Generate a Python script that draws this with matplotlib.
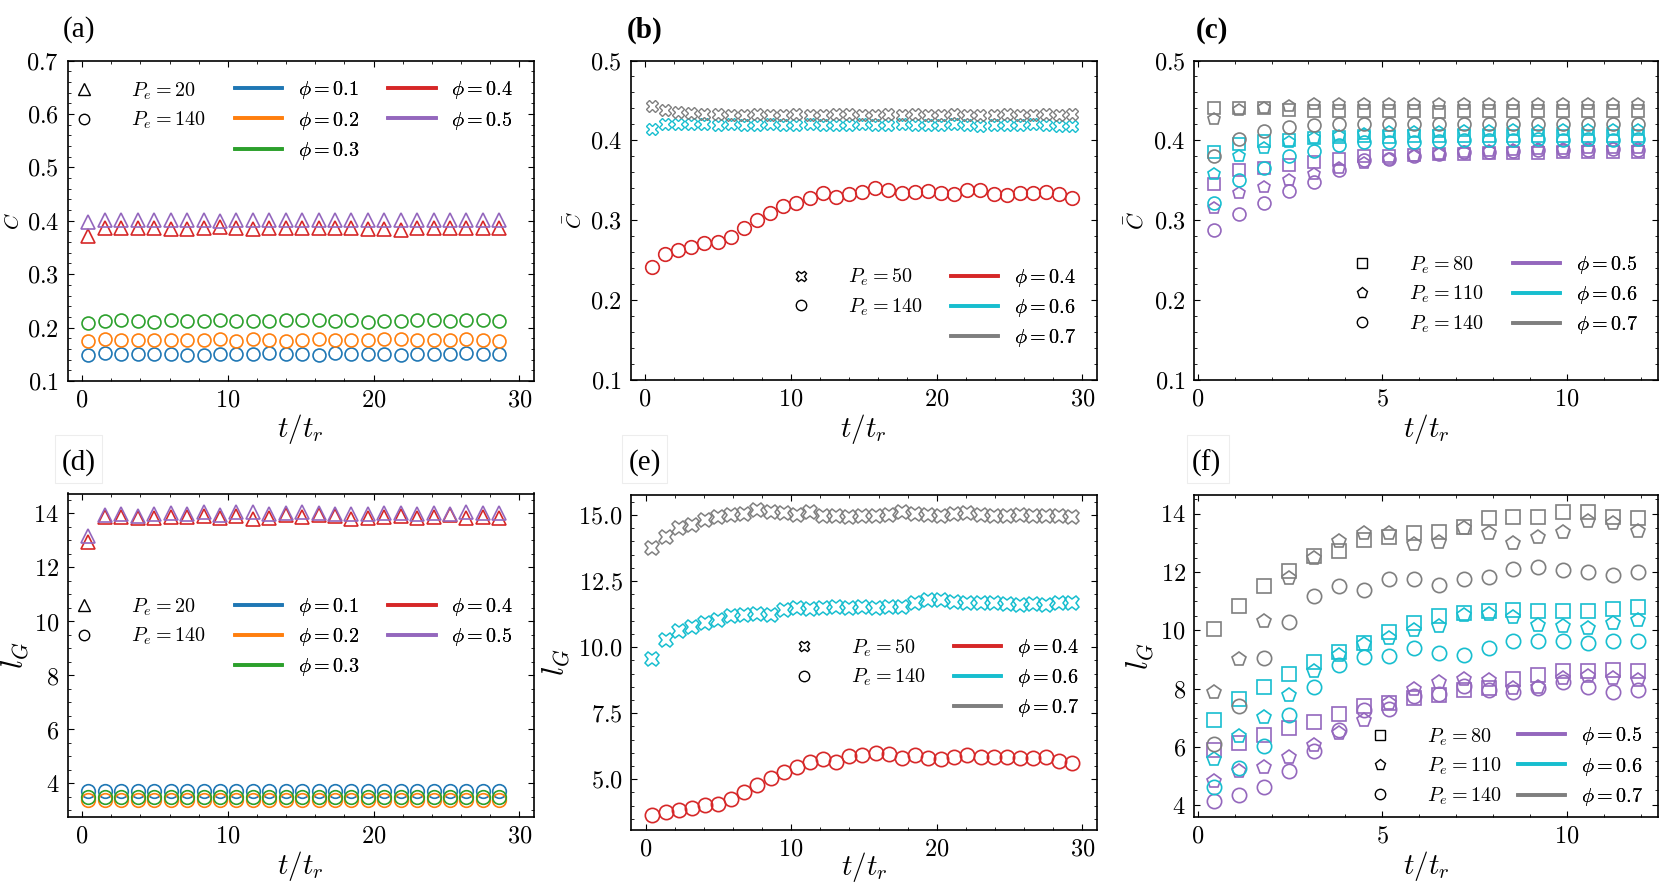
import numpy as np
import matplotlib
matplotlib.use("Agg")
import matplotlib.pyplot as plt
from matplotlib.lines import Line2D
from matplotlib.patches import Rectangle

# ---------------- data ----------------
# panels (a),(d): Pe=20 (triangles) / Pe=140 (circles)
t_ad = np.linspace(0.44, 28.62, 26)
C_a_phi05 = [0.397, 0.401, 0.402, 0.401, 0.402, 0.401, 0.402, 0.401, 0.400, 0.402, 0.401, 0.401, 0.401,
             0.402, 0.401, 0.401, 0.401, 0.401, 0.401, 0.402, 0.402, 0.401, 0.402, 0.401, 0.402, 0.401]
C_a_phi04 = [0.372, 0.387, 0.387, 0.386, 0.386, 0.385, 0.385, 0.386, 0.388, 0.387, 0.385, 0.386, 0.387,
             0.386, 0.386, 0.387, 0.386, 0.385, 0.384, 0.383, 0.386, 0.386, 0.386, 0.387, 0.386, 0.386]
C_a_phi03 = [0.208, 0.213, 0.215, 0.213, 0.211, 0.214, 0.212, 0.213, 0.215, 0.213, 0.213, 0.213, 0.214,
             0.214, 0.215, 0.213, 0.215, 0.211, 0.212, 0.213, 0.214, 0.215, 0.213, 0.214, 0.214, 0.213]
C_a_phi02 = [0.175, 0.178, 0.177, 0.176, 0.177, 0.177, 0.177, 0.176, 0.179, 0.175, 0.179, 0.177, 0.174,
             0.177, 0.178, 0.176, 0.177, 0.177, 0.178, 0.178, 0.176, 0.176, 0.176, 0.178, 0.177, 0.175]
C_a_phi01 = [0.149, 0.152, 0.150, 0.150, 0.150, 0.151, 0.149, 0.149, 0.150, 0.151, 0.151, 0.152, 0.150,
             0.150, 0.148, 0.152, 0.151, 0.151, 0.151, 0.149, 0.150, 0.151, 0.151, 0.152, 0.150, 0.150]

l_d_phi05 = [13.15, 13.95, 13.97, 13.92, 13.98, 14.00, 13.98, 14.05, 13.96, 14.04, 14.05, 13.97, 14.02,
             14.06, 14.03, 13.99, 13.98, 13.97, 14.00, 14.01, 13.98, 14.00, 13.99, 14.05, 14.02, 14.00]
l_d_phi04 = [12.95, 13.86, 13.87, 13.83, 13.82, 13.86, 13.87, 13.90, 13.85, 13.92, 13.80, 13.84, 13.94,
             13.86, 13.93, 13.89, 13.81, 13.85, 13.86, 13.90, 13.82, 13.88, 13.93, 13.85, 13.86, 13.85]
l_d_phi01 = [3.72, 3.71, 3.72, 3.71, 3.73, 3.72, 3.71, 3.72, 3.72, 3.71, 3.72, 3.73, 3.72,
             3.71, 3.72, 3.72, 3.71, 3.72, 3.72, 3.71, 3.72, 3.73, 3.72, 3.71, 3.72, 3.72]
l_d_phi03 = [3.50, 3.51, 3.50, 3.49, 3.50, 3.51, 3.50, 3.50, 3.49, 3.50, 3.51, 3.50, 3.50,
             3.50, 3.49, 3.50, 3.51, 3.50, 3.50, 3.49, 3.50, 3.50, 3.51, 3.50, 3.50, 3.50]
l_d_phi02 = [3.38, 3.37, 3.38, 3.38, 3.37, 3.38, 3.38, 3.37, 3.38, 3.38, 3.37, 3.38, 3.38,
             3.37, 3.38, 3.38, 3.37, 3.38, 3.38, 3.37, 3.38, 3.38, 3.37, 3.38, 3.38, 3.37]

# panels (b),(e): Pe=50 (crosses) / Pe=140 (circles)
t_be = np.linspace(0.47, 29.31, 33)
C_b_phi07 = [0.443, 0.438, 0.436, 0.434, 0.433, 0.433, 0.432, 0.432, 0.433, 0.432, 0.432, 0.433, 0.432,
             0.432, 0.433, 0.433, 0.432, 0.432, 0.433, 0.432, 0.433, 0.432, 0.432, 0.433, 0.432, 0.432,
             0.432, 0.433, 0.432, 0.432, 0.433, 0.432, 0.433]
C_b_phi06 = [0.414, 0.420, 0.421, 0.421, 0.420, 0.419, 0.420, 0.419, 0.419, 0.420, 0.419, 0.419, 0.420,
             0.419, 0.419, 0.419, 0.420, 0.419, 0.419, 0.420, 0.419, 0.419, 0.419, 0.420, 0.419, 0.418,
             0.419, 0.419, 0.419, 0.420, 0.419, 0.418, 0.418]
C_b_phi04 = [0.242, 0.258, 0.263, 0.267, 0.272, 0.273, 0.279, 0.290, 0.300, 0.309, 0.318, 0.322, 0.328,
             0.334, 0.329, 0.333, 0.335, 0.340, 0.338, 0.334, 0.335, 0.336, 0.334, 0.333, 0.338, 0.338,
             0.333, 0.332, 0.334, 0.334, 0.335, 0.333, 0.328]

l_e_phi07 = [13.74, 14.18, 14.50, 14.62, 14.81, 14.91, 15.00, 15.04, 15.19, 15.13, 15.06, 15.00, 15.13,
             14.96, 14.98, 14.94, 14.96, 14.98, 15.00, 15.10, 15.05, 15.00, 14.98, 15.05, 15.08, 15.02,
             14.97, 14.98, 15.00, 14.96, 14.98, 14.95, 14.94]
l_e_phi06 = [9.54, 10.27, 10.62, 10.78, 10.93, 11.03, 11.18, 11.22, 11.26, 11.22, 11.39, 11.48, 11.44,
             11.48, 11.51, 11.48, 11.51, 11.48, 11.53, 11.53, 11.68, 11.80, 11.78, 11.72, 11.68, 11.66,
             11.66, 11.63, 11.60, 11.63, 11.60, 11.66, 11.68]
l_e_phi04 = [3.63, 3.78, 3.84, 3.93, 4.03, 4.07, 4.27, 4.53, 4.79, 5.04, 5.26, 5.48, 5.67,
             5.76, 5.67, 5.88, 5.92, 5.98, 5.95, 5.79, 5.92, 5.79, 5.76, 5.86, 5.92, 5.86,
             5.83, 5.86, 5.79, 5.79, 5.83, 5.71, 5.63]

# panels (c),(f): Pe=80 (squares), 110 (pentagons), 140 (circles)
t_cf = np.linspace(0.455, 11.93, 18)
C_c = {
    (0.7, 80): [0.441, 0.441, 0.440, 0.438, 0.437, 0.437, 0.437, 0.437, 0.437, 0.436, 0.437, 0.437, 0.437, 0.437, 0.437, 0.437, 0.437, 0.437],
    (0.7, 110): [0.427, 0.438, 0.440, 0.443, 0.445, 0.445, 0.446, 0.446, 0.446, 0.445, 0.446, 0.446, 0.445, 0.446, 0.446, 0.446, 0.446, 0.446],
    (0.7, 140): [0.380, 0.402, 0.412, 0.417, 0.419, 0.421, 0.421, 0.420, 0.421, 0.420, 0.420, 0.421, 0.420, 0.421, 0.420, 0.421, 0.421, 0.420],
    (0.6, 80): [0.385, 0.396, 0.399, 0.401, 0.403, 0.404, 0.406, 0.404, 0.405, 0.405, 0.405, 0.406, 0.406, 0.406, 0.405, 0.406, 0.406, 0.406],
    (0.6, 110): [0.358, 0.380, 0.390, 0.398, 0.403, 0.405, 0.408, 0.410, 0.411, 0.411, 0.412, 0.412, 0.413, 0.412, 0.413, 0.413, 0.413, 0.413],
    (0.6, 140): [0.322, 0.351, 0.366, 0.380, 0.387, 0.394, 0.398, 0.398, 0.398, 0.399, 0.400, 0.401, 0.401, 0.402, 0.401, 0.402, 0.401, 0.402],
    (0.5, 80): [0.345, 0.363, 0.366, 0.369, 0.373, 0.377, 0.380, 0.381, 0.382, 0.383, 0.383, 0.384, 0.384, 0.384, 0.385, 0.385, 0.385, 0.385],
    (0.5, 110): [0.315, 0.334, 0.342, 0.351, 0.358, 0.366, 0.372, 0.377, 0.381, 0.383, 0.386, 0.387, 0.388, 0.389, 0.389, 0.390, 0.391, 0.390],
    (0.5, 140): [0.288, 0.308, 0.321, 0.337, 0.348, 0.363, 0.375, 0.377, 0.381, 0.383, 0.385, 0.386, 0.387, 0.388, 0.388, 0.388, 0.389, 0.388],
}
l_f = {
    (0.7, 80): [10.04, 10.85, 11.53, 12.05, 12.54, 12.73, 13.11, 13.22, 13.36, 13.39, 13.54, 13.85, 13.89, 13.91, 14.05, 14.08, 13.89, 13.85],
    (0.7, 110): [7.87, 9.01, 10.33, 11.79, 12.48, 13.08, 13.34, 13.36, 12.97, 13.02, 13.51, 13.36, 12.99, 13.22, 13.39, 13.74, 13.68, 13.43],
    (0.7, 140): [6.11, 7.39, 9.05, 10.30, 11.19, 11.54, 11.39, 11.76, 11.76, 11.56, 11.76, 11.85, 12.10, 12.16, 12.08, 11.99, 11.91, 11.99],
    (0.6, 80): [6.93, 7.64, 8.07, 8.51, 8.93, 9.27, 9.56, 9.93, 10.25, 10.48, 10.59, 10.68, 10.70, 10.68, 10.68, 10.65, 10.73, 10.82],
    (0.6, 110): [5.58, 6.36, 7.04, 7.79, 8.59, 9.16, 9.54, 9.73, 10.00, 10.16, 10.53, 10.57, 10.45, 10.19, 10.16, 10.08, 10.27, 10.34],
    (0.6, 140): [4.61, 5.27, 6.04, 7.10, 8.05, 8.82, 9.10, 9.13, 9.39, 9.24, 9.16, 9.39, 9.64, 9.62, 9.62, 9.58, 9.62, 9.64],
    (0.5, 80): [5.88, 6.13, 6.41, 6.64, 6.84, 7.13, 7.39, 7.50, 7.67, 7.79, 7.94, 8.02, 8.32, 8.47, 8.59, 8.62, 8.65, 8.59],
    (0.5, 110): [4.81, 5.16, 5.30, 5.65, 6.07, 6.49, 6.91, 7.50, 7.98, 8.21, 8.32, 8.30, 8.02, 8.07, 8.36, 8.42, 8.36, 8.30],
    (0.5, 140): [4.13, 4.35, 4.62, 5.16, 5.84, 6.59, 7.27, 7.30, 7.73, 7.82, 8.10, 7.94, 7.87, 8.02, 8.24, 8.07, 7.87, 7.96],
}

colors = {0.1: "#1f77b4", 0.2: "#ff7f0e", 0.3: "#2ca02c", 0.4: "#d62728",
          0.5: "#9467bd", 0.6: "#17becf", 0.7: "#7f7f7f"}
marker_cf = {80: "s", 110: "p", 140: "o"}

# ---------------- style ----------------
plt.rcParams.update({
    "font.family": "serif",
    "font.serif": ["cmr10"],
    "mathtext.fontset": "cm",
    "axes.formatter.use_mathtext": True,
    "axes.linewidth": 1.2,
    "xtick.direction": "in", "ytick.direction": "in",
    "xtick.top": True, "ytick.right": True,
    "xtick.minor.visible": True, "ytick.minor.visible": True,
    "xtick.major.size": 4.3, "ytick.major.size": 4.3,
    "xtick.minor.size": 2.4, "ytick.minor.size": 2.4,
    "xtick.major.width": 0.8, "ytick.major.width": 0.8,
    "xtick.minor.width": 0.6, "ytick.minor.width": 0.6,
    "xtick.major.pad": 6, "ytick.major.pad": 6,
    "xtick.labelsize": 17.5, "ytick.labelsize": 17.5,
})

W, H = 1661, 883
fig = plt.figure(figsize=(W / 100, H / 100), dpi=100)
LFS = 14.5
FS_PX = LFS * 100 / 72
LSP = 0.4


def make_ax(l, r, t, b):
    return fig.add_axes([l / W, 1 - b / H, (r - l) / W, (b - t) / H])


def labels(ax, ylab, ysize, yx, xy):
    l, b, w, h = ax.get_position().bounds
    ax.set_xlabel(r"$t/t_r$", fontsize=21, va="center")
    ax.xaxis.set_label_coords(0.5, ((1 - xy / H) - b) / h)
    ax.set_ylabel(ylab, fontsize=ysize, va="center")
    ax.yaxis.set_label_coords((yx / W - l) / w, 0.5)


def marker_legend(ax, items, mx, yc):
    hs = [Line2D([], [], ls="none", marker=m, mfc="none", mec="k", ms=ms, mew=1.0) for m, ms, _ in items]
    x0 = mx - 0.5 * FS_PX
    leg = ax.legend(hs, [lab for _, _, lab in items], loc="center left",
                    bbox_to_anchor=(x0 / W, 1 - yc / H), bbox_transform=fig.transFigure,
                    frameon=False, borderpad=0, borderaxespad=0, fontsize=LFS,
                    handlelength=1.0, handletextpad=1.85, labelspacing=LSP)
    ax.add_artist(leg)


def color_legend(ax, phis, x0, yc, ncol=1):
    hs = [Line2D([], [], color=colors[p], lw=2.6) for p in phis]
    leg = ax.legend(hs, [r"$\phi = %.1f$" % p for p in phis], loc="center left",
                    bbox_to_anchor=(x0 / W, 1 - yc / H), bbox_transform=fig.transFigure,
                    frameon=False, borderpad=0, borderaxespad=0, fontsize=LFS, ncol=ncol,
                    handlelength=2.35, handletextpad=0.78, labelspacing=LSP, columnspacing=1.45)
    ax.add_artist(leg)


# ---------------- (a) ----------------
ax = make_ax(67.5, 534, 60.5, 381)
ax.plot(t_ad, C_a_phi04, ls="none", marker="^", mfc="none", mec=colors[0.4], ms=10, mew=1.2)
ax.plot(t_ad, C_a_phi05, ls="none", marker="^", mfc="none", mec=colors[0.5], ms=10, mew=1.2)
ax.plot(t_ad, C_a_phi01, ls="none", marker="o", mfc="none", mec=colors[0.1], ms=9.3, mew=1.2)
ax.plot(t_ad, C_a_phi02, ls="none", marker="o", mfc="none", mec=colors[0.2], ms=9.3, mew=1.2)
ax.plot(t_ad, C_a_phi03, ls="none", marker="o", mfc="none", mec=colors[0.3], ms=9.3, mew=1.2)
ax.set_xlim(-1, 31)
ax.set_ylim(0.1, 0.7)
ax.set_xticks([0, 10, 20, 30])
labels(ax, r"$\bar{C}$", 15, 12.5, 428.5)
marker_legend(ax, [("^", 8, r"$P_e = 20$"), ("o", 7.5, r"$P_e = 140$")], 84, 106)
color_legend(ax, [0.1, 0.2, 0.3, 0.4, 0.5], 234.6, 120.5, ncol=2)

# ---------------- (b) ----------------
ax = make_ax(630.5, 1097, 60.5, 380)
ax.plot(t_be, C_b_phi04, ls="none", marker="o", mfc="none", mec=colors[0.4], ms=9.8, mew=1.2)
ax.plot(t_be, C_b_phi06, ls="none", marker="X", mfc="none", mec=colors[0.6], ms=9, mew=1.0)
ax.plot(t_be, C_b_phi07, ls="none", marker="X", mfc="none", mec=colors[0.7], ms=9, mew=1.0)
ax.set_xlim(-1, 31)
ax.set_ylim(0.1, 0.5)
ax.set_xticks([0, 10, 20, 30])
labels(ax, r"$\bar{C}$", 15, 575, 428.5)
marker_legend(ax, [("X", 7.5, r"$P_e = 50$"), ("o", 7.5, r"$P_e = 140$")], 800.7, 292.5)
color_legend(ax, [0.4, 0.6, 0.7], 950.7, 307.7)

# ---------------- (c) ----------------
ax = make_ax(1194, 1658, 60.5, 380)
for phi in (0.5, 0.6, 0.7):
    for pe in (80, 110, 140):
        ax.plot(t_cf, C_c[(phi, pe)], ls="none", marker=marker_cf[pe], mfc="none",
                mec=colors[phi], ms=9.3, mew=1.2)
ax.set_xlim(-0.1, 12.47)
ax.set_ylim(0.1, 0.5)
ax.set_xticks([0, 5, 10])
labels(ax, r"$\bar{C}$", 16, 1136, 428.5)
marker_legend(ax, [("s", 7.5, r"$P_e = 80$"), ("p", 8, r"$P_e = 110$"), ("o", 7.5, r"$P_e = 140$")], 1361.8, 294.7)
color_legend(ax, [0.5, 0.6, 0.7], 1513, 294.7)

# ---------------- (d) ----------------
ax = make_ax(67.5, 534, 493.5, 816.7)
ax.plot(t_ad, l_d_phi04, ls="none", marker="^", mfc="none", mec=colors[0.4], ms=10, mew=1.2)
ax.plot(t_ad, l_d_phi05, ls="none", marker="^", mfc="none", mec=colors[0.5], ms=10, mew=1.2)
ax.plot(t_ad, l_d_phi01, ls="none", marker="o", mfc="none", mec=colors[0.1], ms=9.8, mew=1.2)
ax.plot(t_ad, l_d_phi02, ls="none", marker="o", mfc="none", mec=colors[0.2], ms=9.8, mew=1.2)
ax.plot(t_ad, l_d_phi03, ls="none", marker="o", mfc="none", mec=colors[0.3], ms=9.8, mew=1.2)
ax.set_xlim(-1, 31)
ax.set_ylim(2.77, 14.74)
ax.set_xticks([0, 10, 20, 30])
ax.set_yticks([4, 6, 8, 10, 12, 14])
labels(ax, r"$l_G$", 22, 15, 866)
marker_legend(ax, [("^", 8, r"$P_e = 20$"), ("o", 7.5, r"$P_e = 140$")], 84, 621.7)
color_legend(ax, [0.1, 0.2, 0.3, 0.4, 0.5], 234.6, 637, ncol=2)

# ---------------- (e) ----------------
ax = make_ax(631, 1097, 495, 830)
ax.plot(t_be, l_e_phi04, ls="none", marker="o", mfc="none", mec=colors[0.4], ms=10.3, mew=1.2)
ax.plot(t_be, l_e_phi06, ls="none", marker="X", mfc="none", mec=colors[0.6], ms=10.5, mew=1.1)
ax.plot(t_be, l_e_phi07, ls="none", marker="X", mfc="none", mec=colors[0.7], ms=10.5, mew=1.1)
ax.set_xlim(-1, 31)
ax.set_ylim(3.08, 15.76)
ax.set_xticks([0, 10, 20, 30])
ax.set_yticks([5.0, 7.5, 10.0, 12.5, 15.0])
labels(ax, r"$l_G$", 22, 556, 867)
marker_legend(ax, [("X", 7.5, r"$P_e = 50$"), ("o", 7.5, r"$P_e = 140$")], 804, 662.8)
color_legend(ax, [0.4, 0.6, 0.7], 954, 678)

# ---------------- (f) ----------------
ax = make_ax(1194, 1658, 495, 816.7)
for phi in (0.5, 0.6, 0.7):
    for pe in (80, 110, 140):
        ax.plot(t_cf, l_f[(phi, pe)], ls="none", marker=marker_cf[pe], mfc="none",
                mec=colors[phi], ms=10.3, mew=1.2)
ax.set_xlim(-0.1, 12.47)
ax.set_ylim(3.6, 14.65)
ax.set_xticks([0, 5, 10])
ax.set_yticks([4, 6, 8, 10, 12, 14])
labels(ax, r"$l_G$", 22, 1140, 866)
marker_legend(ax, [("s", 7.5, r"$P_e = 80$"), ("p", 8, r"$P_e = 110$"), ("o", 7.5, r"$P_e = 140$")], 1380, 766.5)
color_legend(ax, [0.5, 0.6, 0.7], 1517.9, 766.5)

# ---------------- panel labels ----------------
for lab, x, y, bold in [("(a)", 78.5, 30, False), ("(b)", 645, 30, True), ("(c)", 1212, 30, True),
                        ("(d)", 78.5, 463, False), ("(e)", 645, 463, False), ("(f)", 1206, 463, False)]:
    fig.text(x / W, 1 - y / H, lab, fontsize=21, ha="center", va="center",
             family="Liberation Serif", weight="bold" if bold else "normal")

# faint boxes left around the lower-row labels
for x1, x2 in [(55, 102), (622, 667), (1187, 1229)]:
    fig.add_artist(Rectangle((x1 / W, 1 - 483 / H), (x2 - x1) / W, 48 / H, transform=fig.transFigure,
                             fill=False, ec="#ededed", lw=0.8))

fig.savefig("out.png", dpi=100)
